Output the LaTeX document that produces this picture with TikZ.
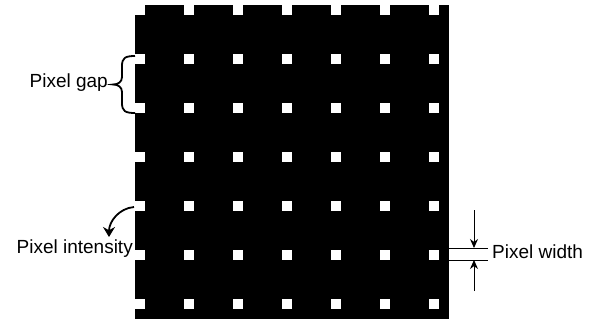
\documentclass[tikz,border=0pt]{standalone}
\usepackage{fontspec}
\setmainfont{Liberation Sans}
\usetikzlibrary{arrows.meta}
\begin{document}
\begin{tikzpicture}[x=1pt,y=-1pt,
  lbl/.style={font=\fontsize{19}{22}\selectfont, inner sep=0pt},
  thin line/.style={line width=1pt},
  thick line/.style={line width=1.8pt},
  dimarrow/.style={line width=1pt, -{Stealth[length=9pt,width=8pt]}},
  curvarrow/.style={line width=1.8pt, -{Stealth[length=10pt,width=12pt]}}]
\useasboundingbox (0,0) rectangle (599,322);
% pixel grid
\fill[black] (135,5) rectangle (449,319);
\foreach \i in {0,...,6}{
  \foreach \j in {0,...,6}{
    \fill[white] ({135+49*\i},{5+49*\j}) rectangle ++(10,10);
  }
}
% labels
\node[lbl, anchor=base east] (gap) at (108,87) {Pixel gap};
\node[lbl, anchor=base east] (intensity) at (133,253.5) {Pixel intensity};
\node[lbl, anchor=base west] (width) at (492,258.5) {Pixel width};
% brace for pixel gap
\coordinate (bt) at (135,56);
\coordinate (bb) at (135,113);
\coordinate (btip) at (113,84.5);
\draw[thick line] (bt) .. controls (125,56) and (122,58) .. (122,66) -- (122,77)
  .. controls (122,82) and (118,84.5) .. (btip)
  .. controls (118,84.5) and (122,87) .. (122,92) -- (122,103)
  .. controls (122,111) and (125,113) .. (bb);
% pixel intensity arrow
\coordinate (cs) at (134,207);
\coordinate (ce) at (109,237);
\draw[curvarrow] (cs) to[out=185,in=90] (ce);
% pixel width dimension
\coordinate (l1a) at (449,248);
\coordinate (l1b) at (488,248);
\coordinate (l2a) at (449,260);
\coordinate (l2b) at (488,260);
\draw[thin line] (l1a) -- (l1b);
\draw[thin line] (l2a) -- (l2b);
\coordinate (a1s) at (474,210);
\coordinate (a1e) at (474,248);
\coordinate (a2s) at (474,291);
\coordinate (a2e) at (474,260);
\draw[dimarrow] (a1s) -- (a1e);
\draw[dimarrow] (a2s) -- (a2e);
\end{tikzpicture}
\end{document}
